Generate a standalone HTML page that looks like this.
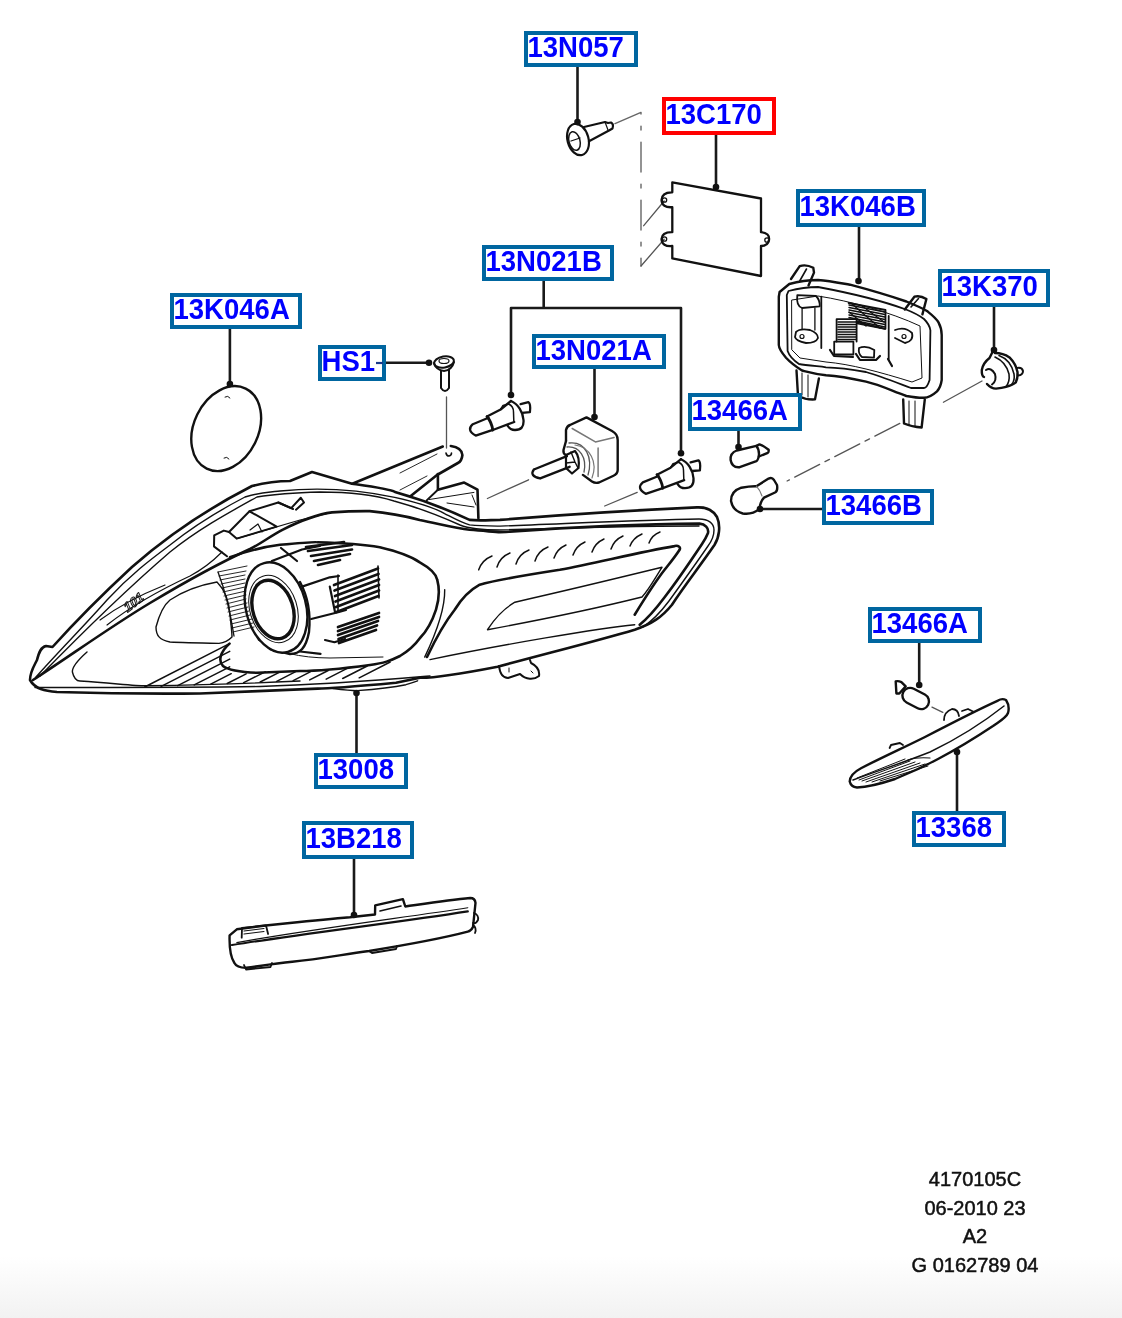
<!DOCTYPE html>
<html><head><meta charset="utf-8"><style>
html,body{margin:0;padding:0;background:#fff;width:1122px;height:1318px;overflow:hidden}
svg{position:absolute;left:0;top:0;filter:blur(0.4px)}
.lb{font-family:"Liberation Sans",sans-serif;font-weight:bold;font-size:27px;fill:#0000ff}
.ft{font-family:"Liberation Sans",sans-serif;font-size:20px;fill:#111;stroke:#111;stroke-width:0.5;text-anchor:middle}
</style></head><body>
<svg width="1122" height="1318" viewBox="0 0 1122 1318">
<defs><linearGradient id="bg" x1="0" y1="0" x2="0" y2="1"><stop offset="0" stop-color="#fff"/><stop offset="1" stop-color="#f2f2f2"/></linearGradient></defs>
<rect x="0" y="1256" width="1122" height="62" fill="url(#bg)"/>
<g fill="none" stroke="#111" stroke-width="2" stroke-linecap="round" stroke-linejoin="round">
<!-- leaders -->
<g stroke="#1a1a1a" stroke-width="2.6">
<path d="M577.5 67 V122"/>
<path d="M716 135 V187"/>
<path d="M859 226 V281"/>
<path d="M994 306 V350"/>
<path d="M543.7 280 V308 M511 308 H681 M511 308 V395 M681 308 V453"/>
<path d="M229.9 328 V384"/>
<path d="M377 362.8 H429"/>
<path d="M594.5 368 V417"/>
<path d="M738.5 431 V447"/>
<path d="M760 509 H822"/>
<path d="M919.2 643 V685"/>
<path d="M957 811 V752"/>
<path d="M356.5 753 V693"/>
<path d="M354 859 V915"/>
</g>
<g fill="#111" stroke="none">
<circle cx="577.5" cy="122" r="3.3"/>
<circle cx="716" cy="187" r="3.3"/>
<circle cx="858.5" cy="281" r="3.3"/>
<circle cx="994" cy="350" r="3.3"/>
<circle cx="511" cy="395" r="3.3"/>
<circle cx="681" cy="453.2" r="3.3"/>
<circle cx="229.9" cy="384" r="3.3"/>
<circle cx="429" cy="362.8" r="3.3"/>
<circle cx="594.5" cy="417" r="3.3"/>
<circle cx="738.5" cy="447" r="3.3"/>
<circle cx="760" cy="509" r="3.3"/>
<circle cx="919.2" cy="685" r="3.3"/>
<circle cx="957" cy="752" r="3.3"/>
<circle cx="356.5" cy="693" r="3.3"/>
<circle cx="354" cy="915" r="3.3"/>
</g>
<!-- dash-dot center lines -->
<g stroke="#666" stroke-width="1.4" stroke-dasharray="30 12 4 12">
<path d="M615 123.6 L641 112.4 V266"/></g><g stroke="#555" stroke-width="1.3"><path d="M641 266 L664.2 239.3 M643.7 225.7 L664.2 201"/>

<path d="M446.5 397 V448"/>
<path d="M487.4 498.5 L528.6 479.8"/>
<path d="M604.7 506 L637.2 492.3"/>
<path d="M982 381 L943.4 402.2"/>
</g><g stroke="#555" stroke-width="1.3" stroke-dasharray="28 6 5 6"><path d="M899.8 423.4 L787.1 481"/>
<path d="M932 707.1 L942.8 712.4"/>
</g>
<!-- screw 13N057 -->
<g stroke="#111" stroke-width="2.2">
<ellipse cx="578" cy="139.5" rx="10.5" ry="16" transform="rotate(-15 578 139.5)"/>
<ellipse cx="574.5" cy="141" rx="5.5" ry="9.5" transform="rotate(-15 574.5 141)" stroke-width="1.5"/>
<path d="M571 141 L580 138" stroke-width="1.3"/>
<path d="M584 127 L605 122 L608 123 L611 122.5 Q614 124 612.5 128.5 L609 130.5 L589 141.2"/><path d="M605 122 L608 130" stroke-width="1.2"/>
</g>
<!-- plate 13C170 -->
<g stroke="#111" stroke-width="2.3">
<path d="M672.3 182.3 L761 198.5 V232.2 Q770 233 769 240 Q768 246 761 246 V276 L672.3 258.4 V246 Q662 247 661.5 239 Q662 232 672.3 232.2 V207.2 Q662 208 661.5 200 Q662 192 672.3 192.3 Z"/>
<circle cx="664.5" cy="200" r="2.2" stroke-width="1.3"/>
<circle cx="664.5" cy="239" r="2.2" stroke-width="1.3"/>
<circle cx="767" cy="240" r="2.2" stroke-width="1.3"/>
</g>
<!-- headlamp 13008 -->
<g stroke="#111" stroke-width="2.6">
<!-- outer silhouette -->
<path d="M30 680 C30 672 34 666 37 660 C39 652 41 647 46 646 L52.5 647 C75 622 105 592 132 567 C165 538 205 510 252 486 C268 482 280 481 290 481 L312 472 L352 483.7 C375 487 390 489 395 492 C420 499 440 506 469.6 519.9 C480 521 490 520 500 519.9 C560 515 640 510 697 507.4 C706 507 713 510 717 517 C721 526 719 538 714.6 544.8 C700 566 685 585 672 604.7 C662 617 652 624 634.7 629.7 C600 640 560 650 497.6 666.7 C460 674 430 678 420 677.8 L396 682.7 C360 686 320 688.6 317.6 688.6 C260 691 220 693 200 693.5 C150 694 90 693 57 692 C45 691 35 689 30 680 Z"/>
<!-- main thick diagonal from tip -->
<path d="M33 680 C70 656 110 627 150 603 C180 585 215 565 250 549 C262 543 272 535 282.4 529.8 C300 521 320 514 332 512.4 C350 511 360 511 369.7 511.1 C390 513 405 516 419.7 519.9 C440 524 455 528 469.6 529.8 C485 531 495 532 500 532.3 C560 528 640 524 699.6 523.6 C705 524 709 528 708 533 C706 538 704 541 702 544 C690 562 678 580 664.6 597.2 C655 610 648 618 639.7 624.7"/>
<!-- bracket -->
<path d="M352.3 483.7 L442.8 446.5 M450.8 446 C458 447 462 450 462.4 455 C462 459 460 462 457.9 463 L437 475 L410.7 496"/>
<path d="M446 453 Q446.5 456 449 456 Q451.5 455.5 451.5 453" stroke-width="1.6"/>
<path d="M437.9 474 V489.7 L464.2 482.6 L477.5 489.7 L478.4 518.2"/>
<path d="M426.7 500.4 L437.9 489.7" stroke-width="2"/>
<path d="M429.4 499.5 L474 492.4 M472 495 L476 505 M447 503 L474 507" stroke-width="1"/>
<path d="M400 473 L437 454 M400 490 L427 476" stroke-width="0.9"/>
<!-- projector housing big contour -->
<path d="M230 557.3 C250 550 270 546 280 544.8 C300 543 317 542 317.4 542.3 C340 543 360 544 379.8 547.3 C400 552 412 557 419.8 562.3 C430 568 436 573 437.2 579.7 C440 590 439 600 436 609.7 C432 622 428 630 420 638 C415 645 410 650 400 656 C390 661 384 663 370 665 C340 669 317 671 300 671 L257 672.8 C240 672 228 670 223 666 C218 661 220 652 229.5 643.6"/>
<!-- DRL bezel -->
<path d="M427 657 C435 640 445 622 454.7 609.7 C462 598 470 590 479.7 584.7 C495 580 520 576 559.8 569.8 C600 562 640 552 674.6 546.1 C678 545 681 547 679.6 549.8 C675 557 670 563 664.6 569.8 C655 582 645 598 634.7 614.7"/>
</g>
<g stroke="#111" stroke-width="1.4">
<!-- rim inner lines -->
<path d="M36 677 C60 650 85 625 107 600 C130 575 150 560 170 545 C195 525 220 510 245 497 C260 492 270 492 280 491 C320 487 360 490 394.7 497.4 C420 503 435 508 444.6 513.6 C455 519 462 523 469.6 524.9 C480 526 490 526 500 526.1 C560 524 640 520 699 519 C708 519 714 523 714 530 C714 537 711 542 708 546 C695 565 682 583 669 601 C660 613 652 621 643 627"/>
<path d="M40 676 C80 635 120 595 170 552 C200 528 230 512 257 497 C275 494 300 492.5 320 492 C350 492 375 495 394 501 C420 508 440 516 460 525 C470 529 485 530 500 530 C560 528 640 526 699 526"/>
<!-- lower bezel lines -->
<path d="M430 659.6 C500 645 600 628 634.7 624.7"/>
<path d="M487.5 629.7 C495 618 505 608 514.9 602.2 C560 592 610 580 662 567.3 C655 578 650 588 642 597 C590 610 540 620 487.5 629.7 Z"/>
<path d="M444.7 589.7 C445 605 440 625 424.7 657.1"/>
<!-- reflector and lens-area lines -->
<path d="M156 627 C160 612 165 604 170 600 C185 590 200 585 217 582 C225 590 229 600 230 615 C231 625 232 632 232 637 C228 641 222 643 219 643.4 C200 643 180 642.5 170 642 C160 640 156 636 156 627 Z"/>
<path d="M87 652 C78 660 72 667 72.4 672 C74 679 77 681 80 681 C120 684 140 686 145 685.8 C200 685 260 683 300 681"/>
<path d="M35 687.5 C100 687.5 200 687.5 260 686.5 C330 684.5 400 678.5 430 676"/><path d="M258 640 C275 652 300 658 330 658 L383 657" stroke-width="1"/>
<path d="M333 688.6 C345 690 352 690.6 357 690.6 C380 689 395 687 405.9 684.7 C410 683.5 414 682 417.6 680.8"/>
</g>
<!-- lens ring -->
<g stroke="#111" stroke-width="2.4">
<path d="M300 582 C307 595 311 612 309 632 C306 648 300 654 290 654 L270 649"/>
<ellipse cx="276" cy="607.5" rx="30" ry="46" transform="rotate(-15 276 607.5)" fill="#fff"/>
<ellipse cx="273" cy="609.5" rx="20" ry="30" transform="rotate(-18 273 609.5)" stroke-width="3.4"/>
<ellipse cx="273.5" cy="609" rx="23.5" ry="34.5" transform="rotate(-18 273.5 609)" stroke-width="1"/>
</g>
<!-- housing behind lens -->
<g stroke="#111" stroke-width="2.2">
<path d="M271.8 561 L302 549.5 L320 546"/>
<path d="M302 586.6 L329.8 577.3 L339 576 M329.8 586.6 L335 612 M311.2 619 L339 612 L346 610"/>
<path d="M325 640 L334.4 642.2 L345 639 M300 651.5 L320.5 653.8"/>
<path d="M281 548 L297 561"/>
</g>
<g stroke="#111" stroke-width="2.7">
<path d="M334 585 L378 568.5 M334.5 590.5 L378.5 574 M335 596 L379 579.5 M335.5 601.5 L379 585 M336 607 L379 590.5 M336.5 612 L378.5 596"/>
<path d="M338 627 L379 613 M338 631 L379 617 M338 635 L378 621 M338.5 639 L377 625.5 M339 643 L376 630"/>
<path d="M308 551 L352 545 M311 556 L352 549.5 M314 561 L350 554 M306 547 L344 542 M318 565 L340 560"/>
</g>
<g stroke="#111" stroke-width="1.6">
<path d="M338 575 L338 612 M378 566 L379 598"/>
</g>
<g stroke="#111" stroke-width="0.9">
<path d="M218 572 L247 566 M219 576 L246 571 M220 580 L245 575 M221 584 L245 579 M222 588 L245 583 M223 592 L245 587 M224 596 L246 591 M225 600 L246 595 M226 604 L246 599 M227 608 L247 603 M228 612 L248 607 M229 616 L249 611 M230 620 L250 615 M231 624 L252 619 M232 628 L253 623 M233 632 L254 627"/>
<path d="M218 572 C225 590 230 610 234 636" stroke-width="1.3"/>
</g>
<!-- upper-left bracket piece inside lamp -->
<g stroke="#111" stroke-width="2">
<path d="M214 546 L214.2 535.4 L223.8 530.6 L229 532 L249.5 511.3 L278.3 502.5 L291.2 508.1 L300.8 497.7 L304 502.5 L296 509.7"/>
<path d="M249.5 511.3 L276.7 526.6 L236.6 538.6 L229 532 M278.3 502.5 L293 509"/>
<path d="M214.2 546.6 L227 556.3"/>
</g>
<g stroke="#111" stroke-width="1.2">
<path d="M107 625 C130 607 160 590 190 576 C205 568 214 560 222 552 M100 620 C120 605 140 595 165 585"/>
<path d="M236.6 538.6 L300 520 L330 513"/>
<path d="M250 530 L258 524 L262 532"/>
</g>
<!-- bottom hatching -->
<g stroke="#111" stroke-width="1.5"><path d="M144.7 687.0 L229.5 643.6 M161.2 686.3 L229.7 651.4 M177.7 685.6 L229.7 659.1 M194.2 684.9 L229.7 666.8 M210.7 684.2 L231.2 673.7 M227.2 683.5 L246.2 673.8 M243.7 682.7 L265.2 671.8 M260.2 682.0 L280.2 671.8 M276.7 681.3 L295.2 671.9 M293.2 680.6 L310.2 671.9 M309.7 679.9 L328.2 670.5 M326.2 679.2 L347.7 668.2 M342.7 678.5 L367.2 666.0 M359.2 677.8 L390.2 662.0"/></g>
<!-- logo -->
<text x="0" y="0" transform="translate(127 613) rotate(-38) skewX(-15)" font-family="Liberation Sans, sans-serif" font-size="13" font-weight="bold" fill="none" stroke="#111" stroke-width="1">101</text>
<!-- DRL dashes -->
<g stroke="#111" stroke-width="1.5">
<path d="M478.7 569.8 Q482 560 492 556 M497 567 Q500 557 510 553 M516 564 Q519 554 529 550 M535 561 Q538 551 548 547 M554 558 Q557 549 566 545 M573 555 Q576 546 585 542 M592 552 Q595 543 604 539 M611 549 Q614 540 623 536 M630 546 Q633 538 642 534 M649 543 Q652 535 660 532"/>
</g>
<!-- mount tab -->
<g stroke="#111" stroke-width="2">
<path d="M499 666 C500 674 503 678 508 678 L520 674 C526 680 534 680 539 676 C540 670 537 666 531 663 L530 660"/>
<path d="M509 668 V672 M531 671 L533 673" stroke-width="1"/>
</g>
<!-- 13K046A cover -->
<g stroke="#111" stroke-width="2.4">
<ellipse cx="226.2" cy="428.6" rx="32.2" ry="44.5" transform="rotate(26 226.2 428.6)"/>
<path d="M225 397 q3 -2 5 1 M224 458 q3 -2 5 1" stroke-width="1"/>
</g>
<!-- HS1 clip -->
<g stroke="#111" stroke-width="2">
<ellipse cx="444" cy="362" rx="10" ry="5.5" transform="rotate(-10 444 362)"/>
<path d="M434 363 Q436 370 444 371 Q452 370 454 362"/>
<path d="M441 371 V388 Q445 394 449 388 V370"/>
<ellipse cx="444" cy="361" rx="5" ry="2.5" stroke-width="1.2"/>
</g>
<!-- H1 bulb left -->
<g id="h1" stroke="#111" stroke-width="2.3">
<path d="M488.5 417.8 L472.8 424.2 Q466 430 475.7 435.6 L492.8 429.9"/>
<path d="M487 416.5 Q491.5 422 492.8 430" stroke-width="2.8"/>
<path d="M487 416.5 L500.6 409.5 L511 401"/>
<path d="M492.8 430 L514.2 422"/>
<path d="M511 401 C518 404 523 412 523.5 420 C524 427 521 430 515 430 C512 430 509 428 507.5 425.6"/>
<path d="M500.6 409.5 L503 405.5 L508.5 404 Q513.5 406 513.5 412 L513.8 421" stroke-width="1.5"/>
<path d="M520.6 404.2 L528.4 402.1 Q531 404 529.9 412.1 L522 412.8"/>
</g>
<!-- H1 bulb right -->
<g stroke="#111" stroke-width="2.3" transform="translate(170 58.2)">
<path d="M488.5 417.8 L472.8 424.2 Q466 430 475.7 435.6 L492.8 429.9"/>
<path d="M487 416.5 Q491.5 422 492.8 430" stroke-width="2.8"/>
<path d="M487 416.5 L500.6 409.5 L511 401"/>
<path d="M492.8 430 L514.2 422"/>
<path d="M511 401 C518 404 523 412 523.5 420 C524 427 521 430 515 430 C512 430 509 428 507.5 425.6"/>
<path d="M500.6 409.5 L503 405.5 L508.5 404 Q513.5 406 513.5 412 L513.8 421" stroke-width="1.5"/>
<path d="M520.6 404.2 L528.4 402.1 Q531 404 529.9 412.1 L522 412.8"/>
</g>
<!-- D bulb 13N021A -->
<g stroke="#111" stroke-width="2.4">
<path d="M566 441 L566 430 Q567 426 570 425 L586.5 417.4 L612 431 Q617.7 434 617.7 440 L617.7 470 Q617.7 474 613 476 L599 482.5 Q595 483.5 592 481.5 L582.9 474.9"/>
<path d="M572.2 428.5 L595.4 441.9 L614.1 437.4 M598.1 448.1 V476.6" stroke="#777" stroke-width="1.5"/>
<path d="M566 441 L563.5 450 Q563 454 566 455"/>
<path d="M567 447 C580 446 587 458 584 472 M569 443 C586 441 593 458 588 475" stroke="#555" stroke-width="1.3"/>
<path d="M575 445 C590 447 598 462 592 478" stroke="#777" stroke-width="1.2"/>
<path d="M566 455 L575 451 Q580 457 578.5 468 L572 473.5 L566 468 Z" stroke-width="2.2"/>
<path d="M571 452 L575 462 L578 468 M566 463 L575 462" stroke-width="1.4"/>
<path d="M533.9 469.5 L566.9 456.1 M540.2 478.4 L569.6 466.8 M533.9 469.5 Q529 476 540.2 478.4"/>
</g>
<!-- 13466A bulb (upper) -->
<g stroke="#111" stroke-width="2.4">
<path d="M736.7 450.5 L756.4 445.9 Q759 449 759 454 Q758.5 460 756.4 461.1 L739.7 467.2 Q732 468 730.6 460 Q730 453 736.7 450.5 Z"/>
<path d="M756.4 445.9 L759.5 444.4 Q764 446 768.6 449.7 Q769 452 767.8 452.8 L759 456.5"/>
</g>
<!-- 13466B bulb -->
<g stroke="#111" stroke-width="2.4">
<path d="M759.5 508.9 Q752 515 742.8 513.5 Q733 511 731 501 Q731 491 741.3 487.7 Q750 486 756.4 486.2 L768.6 478.6 Q772 477 774 480 L777 485 Q778 491 775 492.5 L764 497.6 Q760 502 759.5 508.9"/>
<path d="M756.4 486.2 Q760 490 762 496" stroke="#777" stroke-width="1.2"/>
</g>
<!-- 13K370 socket -->
<g stroke="#111" stroke-width="2.4">
<path d="M993.5 350 L989.5 358 Q983 363 981.8 370 Q981.5 376 984 377"/>
<path d="M987 384 Q991 388.5 996 388.6 Q1002 388 1006 386.8 Q1013 385 1015.8 382.4 Q1018 378 1017.5 372 Q1016 364 1009.5 357.4 Q1003 353 995 353"/>
<path d="M995 357 Q1006 362 1009 374 Q1010 382 1006 386.5 M999 355.5 Q1011 360 1014 374 Q1015 380 1012 384" stroke-width="1.6"/>
<path d="M986 370 Q991 367 995 374 Q997 381 992 384.5" stroke-width="2"/>
<path d="M1017 368 Q1022 367 1023 371 Q1023 375 1018 375.5" stroke-width="2"/>
</g>
<!-- 13K046B housing -->
<g stroke="#111" stroke-width="2.4">
<path d="M779.6 292 L789.3 284 C800 281 810 280 818 280 C830 281 840 283 850 284.7 C870 290 890 296 906.4 301.5 C915 305 922 308 927 311 C932 315 936 318 938.5 322.4 C941 327 941.7 331 941.7 335 L941.7 380 C941 385 940 388 937 391.4 C933 395 928 397.8 924 397.8 C918 398 912 397 906.4 396 C890 390 880 385 866 381.7 C850 378 840 376 826 375.3 C815 374 808 372 802 370.5 C795 366 790 362 786 357.7 C782 353 779 349 778.8 345 L778.8 296.7 Z"/>
<path d="M788.5 291 C800 288 810 287 818 287 C850 293 880 300 906 309.5 C915 313 920 316 924 319 C928 323 930 327 930.4 330.4 L929.6 380 C928 385 926 388 924 388 L911 388 C895 382 880 376 866 372 C850 369 840 367.5 826 367.3 C815 366 805 365 799 364 C793 360 789 355 787.6 351 L786.8 295 Z" stroke-width="1.8"/>
<path d="M792 300 L818 296 C850 301 890 312 920 326 L922 378 L912 382 C880 372 850 364 826 362 L800 358 L792 350 Z" stroke-width="1"/>
<!-- tabs -->
<path d="M791 279 L799.7 266.2 Q806 264 813.3 267.8 L814 272.6 L808.5 285.5"/>
<path d="M904.8 309.5 L914.4 296.7 Q920 295 926.4 299 L922.4 314.4"/>
<path d="M799.7 281 L806.5 269 M911 307 L918.5 298.5" stroke-width="1.6"/>
<!-- legs -->
<path d="M796.5 370.5 L798 396 Q806 400 815 399.4 L818.9 378.5"/>
<path d="M802 373 V395 M808 375 V397" stroke-width="1"/>
<path d="M903.2 399.4 L904 423.5 Q912 427 921.6 427.5 L924.8 399.4"/>
<path d="M909 401 V425 M915 401 V426" stroke-width="1"/>
</g>
<g stroke="#111" stroke-width="1.8">
<!-- inner details -->
<path d="M821.3 296.7 V348 M888.7 316 V359"/>
<path d="M797.3 295.1 L816 296 Q820 300 819.7 306.3 L802.1 308 Q796 306 797.3 295.1 Z"/>
<path d="M796 332 Q800 328 810 330 Q818 333 818 338 Q816 343 806 343 Q796 341 795 337 Z"/>
<circle cx="802" cy="336.5" r="2" stroke-width="1.2"/>
<path d="M802.1 308 V329 M814.9 308 V330" stroke-width="1.3"/>
<path d="M895 330 Q905 326 912 333 Q914 341 905 343 L895 338"/>
<circle cx="904" cy="336.5" r="2" stroke-width="1.2"/>
<path d="M834.2 341.6 H853.4 V354.5 H834.2 Z M859 348 Q866 345 874.3 350 L874 357.7 L862 357 Q858 354 859 348 Z"/>
<path d="M836.6 319.2 H856.6 V341.6 M836.6 319.2 V341.6"/>
<path d="M848.6 303 L885.5 310 V328.8 L856.6 322"/>
</g>
<g stroke="#111" stroke-width="1.5">
<path d="M849 305 L885 312 M849 307.5 L885 314.5 M849 310 L885 317 M849 312.5 L885 319.5 M849 315 L885 322 M849 317.5 L885 324.5 M857 321 L885 327 M857 323.5 L885 329"/>
<path d="M852 304 L880 328 M862 306 L884 322 M849 312 L866 326" stroke-width="1.3"/>
<path d="M838 322 H856 M838 324.5 H856 M838 327 H856 M838 329.5 H856 M838 332 H856 M838 334.5 H856 M838 337 H856 M838 339.5 H856"/>
<path d="M830 350 L834 356 L853 357 M856 354 L860 360 L876 360 L880 356 M888 359 L892 366" stroke-width="2.2"/>
</g>
<!-- 13B218 fog bezel -->
<g stroke="#111" stroke-width="2.4">
<path d="M229.6 935.3 L236.8 929.3 L263.3 925.7 L287.4 923.3 C310 921 330 919 349.9 917.3 L375 914.5 L375.2 905.3 L402.9 899.2 L405.3 906.5 C430 903 450 900 470.2 898 Q475 898 475.5 902.9 L473 927 Q471 931 467.8 931.7 C440 939 400 946 369.2 951 C340 955 320 959 292.2 961.8 C270 964 255 967 246.5 967.8 Q237 968 234.4 963 Q229 955 229.6 935.3 Z"/>
<path d="M232 945 C300 934 400 922 467.8 911.3" stroke-width="2.2"/>
<path d="M236.8 942.6 C300 931 400 918 467.8 907.7" stroke-width="1.1"/>
<path d="M241.7 937.7 L242 928 L266 925.5 L268.1 934" stroke-width="1.8"/>
<path d="M244 934 L264 931.5 M244 931 L264 928.5" stroke-width="1.2"/>
<path d="M380 911 L401 906" stroke-width="1.6"/>
<path d="M244 965 L246 969.5 L270.5 967 L272 963 M369 951 L372 953 L396 949 L397 946" stroke-width="1.8"/>
<path d="M474 913 Q479 915 478 920 Q476 924 473 923 M473 925 Q477 928 475 933" stroke-width="1.8"/>
</g>
<!-- 13368 side marker -->
<g stroke="#111" stroke-width="2.4">
<path d="M849.7 781.5 Q851 787 857 787.5 C870 787 880 784 895 779 C910 773 925 766 938 759 C955 750 975 738 993 726 C1000 721 1006 718 1008 713 Q1010 706 1006 700 Q1002 698 998 700.6 C975 711 950 724 925 737 C905 747 885 756 861 768.2 Q850 774 849.7 781.5 Z"/>
<path d="M853 780 C880 770 905 762 930 752 C955 740 980 725 1004 706" stroke-width="1.5"/>
<path d="M889.6 748 L891 745 L899.9 743 L903 745" stroke-width="1.8"/>
<path d="M944 720 Q944 712 952 709 Q958 709 959 716 M962 711 L968 709 L974 712" stroke-width="1.8"/>
<path d="M908 760 Q916 757 930 758" stroke-width="1.2"/>
</g>
<g stroke="#111" stroke-width="1">
<path d="M857 778 L905 759 M859 780 L910 761 M862 781 L915 762 M866 782 L920 763 M872 782 L925 764 M880 781 L928 766"/>
</g>
<!-- 13466A bulb lower -->
<g stroke="#111" stroke-width="2.4">
<rect x="901.7" y="690.75" width="28" height="15.5" rx="7.75" transform="rotate(27.6 915.7 698.5)"/>
<path d="M905.7 686.4 L901.4 682.1 Q898 680.5 895.7 681.4 L896.4 693.5 L899.3 693.5 Z"/>
</g>

</g>
<rect x="526" y="33" width="110" height="32" fill="#fff" stroke="#0066a0" stroke-width="4"/>
<text transform="translate(527.5 57.4) scale(1.02 1.12)" class="lb">13N057</text>
<rect x="664" y="99" width="110" height="34" fill="#fff" stroke="#ff0000" stroke-width="4"/>
<text transform="translate(665.5 124.4) scale(1.02 1.12)" class="lb">13C170</text>
<rect x="798" y="191" width="126" height="34" fill="#fff" stroke="#0066a0" stroke-width="4"/>
<text transform="translate(799.5 216.4) scale(1.02 1.12)" class="lb">13K046B</text>
<rect x="940" y="271" width="108" height="34" fill="#fff" stroke="#0066a0" stroke-width="4"/>
<text transform="translate(941.5 296.4) scale(1.02 1.12)" class="lb">13K370</text>
<rect x="484" y="247" width="128" height="32" fill="#fff" stroke="#0066a0" stroke-width="4"/>
<text transform="translate(485.5 271.4) scale(1.02 1.12)" class="lb">13N021B</text>
<rect x="172" y="295" width="128" height="32" fill="#fff" stroke="#0066a0" stroke-width="4"/>
<text transform="translate(173.5 319.4) scale(1.02 1.12)" class="lb">13K046A</text>
<rect x="320" y="347" width="64" height="32" fill="#fff" stroke="#0066a0" stroke-width="4"/>
<text transform="translate(321.5 371.4) scale(1.02 1.12)" class="lb">HS1</text>
<rect x="534" y="336" width="130" height="31" fill="#fff" stroke="#0066a0" stroke-width="4"/>
<text transform="translate(535.5 359.9) scale(1.02 1.12)" class="lb">13N021A</text>
<rect x="690" y="395" width="110" height="34" fill="#fff" stroke="#0066a0" stroke-width="4"/>
<text transform="translate(691.5 420.4) scale(1.02 1.12)" class="lb">13466A</text>
<rect x="824" y="491" width="108" height="32" fill="#fff" stroke="#0066a0" stroke-width="4"/>
<text transform="translate(825.5 515.4) scale(1.02 1.12)" class="lb">13466B</text>
<rect x="870" y="609" width="110" height="32" fill="#fff" stroke="#0066a0" stroke-width="4"/>
<text transform="translate(871.5 633.4) scale(1.02 1.12)" class="lb">13466A</text>
<rect x="914" y="813" width="90" height="32" fill="#fff" stroke="#0066a0" stroke-width="4"/>
<text transform="translate(915.5 837.4) scale(1.02 1.12)" class="lb">13368</text>
<rect x="316" y="755" width="90" height="32" fill="#fff" stroke="#0066a0" stroke-width="4"/>
<text transform="translate(317.5 779.4) scale(1.02 1.12)" class="lb">13008</text>
<rect x="304" y="823" width="108" height="34" fill="#fff" stroke="#0066a0" stroke-width="4"/>
<text transform="translate(305.5 848.4) scale(1.02 1.12)" class="lb">13B218</text>
<path d="M376 363 H383" stroke="#1a3a8a" stroke-width="2.2"/>
<text class="ft" x="975" y="1186">4170105C</text>
<text class="ft" x="975" y="1215">06-2010 23</text>
<text class="ft" x="975" y="1243">A2</text>
<text class="ft" x="975" y="1272">G 0162789 04</text>
</svg>
</body></html>
